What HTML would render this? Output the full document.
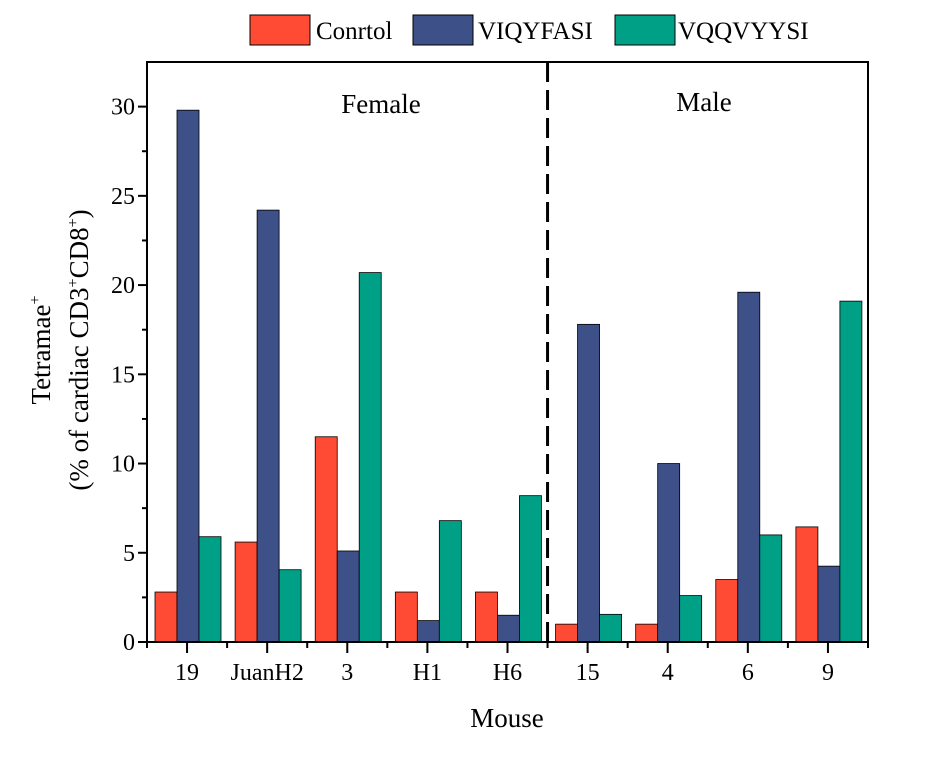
<!DOCTYPE html>
<html><head><meta charset="utf-8"><style>
body{margin:0;background:#fff}
svg text{font-family:"Liberation Serif",serif;fill:#000}
</style></head><body>
<svg id="chart" width="951" height="762">
<g id="legend">
<g><rect x="250" y="15" width="60" height="30" fill="#FF4B33" stroke="#000" stroke-width="1"/><text x="316" y="39" font-size="25">Conrtol</text></g>
<g><rect x="413" y="15" width="60" height="30" fill="#3D5088" stroke="#000" stroke-width="1"/><text x="478" y="39" font-size="25">VIQYFASI</text></g>
<g><rect x="615" y="15" width="60" height="30" fill="#00A087" stroke="#000" stroke-width="1"/><text x="678" y="39" font-size="25">VQQVYYSI</text></g>
</g>
<g id="bars"></g>
<g id="axes"></g>
<text x="381" y="113" font-size="27" text-anchor="middle">Female</text>
<text x="704" y="111" font-size="27" text-anchor="middle">Male</text>
<text x="507" y="727" font-size="27" text-anchor="middle">Mouse</text>
<g>
<text transform="translate(50,350) rotate(-90)" font-size="27" text-anchor="middle">Tetramae<tspan font-size="16" dy="-10">+</tspan></text>
<text transform="translate(88,350) rotate(-90)" font-size="27" text-anchor="middle">(% of cardiac CD3<tspan font-size="16" dy="-10">+</tspan><tspan dy="10">CD8</tspan><tspan font-size="16" dy="-10">+</tspan><tspan dy="10">)</tspan></text>
</g>
</svg>
<script>
const categories=["19","JuanH2","3","H1","H6","15","4","6","9"];
const control=[2.8,5.6,11.5,2.8,2.8,1.0,1.0,3.5,6.45];
const viqyfasi=[29.8,24.2,5.1,1.2,1.5,17.8,10.0,19.6,4.25];
const vqqvyysi=[5.9,4.05,20.7,6.8,8.2,1.55,2.6,6.0,19.1];
const yTicks=[0,5,10,15,20,25,30];
const NS="http://www.w3.org/2000/svg";
const L=147,R=868,T=62,B=642,YMAX=32.5;
const y=v=>B-(v/YMAX)*(B-T);
const band=(R-L)/categories.length;
const x=i=>L+band*i;
function mk(tag,at,parent){const e=document.createElementNS(NS,tag);for(const k in at)e.setAttribute(k,at[k]);parent.appendChild(e);return e;}
const bars=document.getElementById('bars'),axes=document.getElementById('axes');
const series=[[control,"#FF4B33","control"],[viqyfasi,"#3D5088","viqyfasi"],[vqqvyysi,"#00A087","vqqvyysi"]];
const bw=22;
categories.forEach((c,i)=>{
  series.forEach((s,j)=>{
    const bx=x(i)+8+j*bw;
    const r=mk('rect',{x:bx,y:y(s[0][i]),width:bw,height:B-y(s[0][i]),fill:s[1],stroke:'#000','stroke-width':0.8},bars);
    
    
  });
  const cx=x(i)+band/2;
  mk('line',{x1:cx,x2:cx,y1:B,y2:B+11,stroke:'#000','stroke-width':2},axes);
  mk('line',{x1:x(i),x2:x(i),y1:B,y2:B+6,stroke:'#000','stroke-width':2},axes);
  const t=mk('text',{x:cx,y:B+38,'font-size':24,'text-anchor':'middle'},axes);
  t.textContent=c;
  
  
});
mk('line',{x1:R,x2:R,y1:B,y2:B+6,stroke:'#000','stroke-width':2},axes);
yTicks.forEach(v=>{
  mk('line',{x1:L-9,x2:L,y1:y(v),y2:y(v),stroke:'#000','stroke-width':2},axes);
  if(v+2.5<YMAX) mk('line',{x1:L-5,x2:L,y1:y(v+2.5),y2:y(v+2.5),stroke:'#000','stroke-width':2},axes);
  const t=mk('text',{x:L-12,y:y(v)+8,'font-size':24,'text-anchor':'end'},axes);
  t.textContent=v;
  
  
});
mk('rect',{x:L,y:T,width:R-L,height:B-T,fill:'none',stroke:'#000','stroke-width':2},axes);
const d=mk('line',{x1:x(5),x2:x(5),y1:T,y2:B,stroke:'#000','stroke-width':3,'stroke-dasharray':'20,8'},axes);


</script>
</body></html>
